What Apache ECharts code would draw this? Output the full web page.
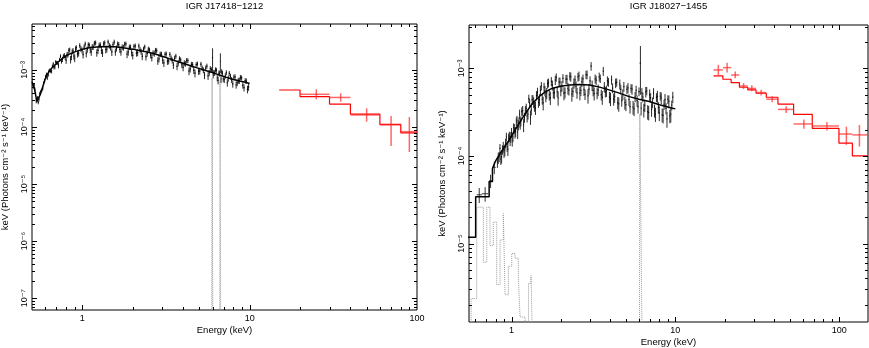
<!DOCTYPE html>
<html><head><meta charset="utf-8">
<script src="https://cdn.jsdelivr.net/npm/echarts@6/dist/echarts.min.js"></script>
<style>html,body{margin:0;padding:0;background:#fff}#c{width:869px;height:348px}</style>
</head><body><div id="c"></div>
<script>
// All flux values are in units of 1e-3 keV (Photons cm^-2 s^-1 keV^-1)
const UNIT = 1e-3;
const titles = ['IGR J17418\u22121212', 'IGR J18027\u22121455'];
const xName = 'Energy (keV)';
const yName = 'keV (Photons cm\u207B\u00B2 s\u207B\u00B9 keV\u207B\u00B9)';
const xTickValues = [1, 10, 100];
const xTickLabels = ['1', '10', '100'];
const yTickValues = [1e-7, 1e-6, 1e-5, 1e-4, 1e-3];
const yTickLabels = ['10\u207B\u2077', '10\u207B\u2076', '10\u207B\u2075', '10\u207B\u2074', '10\u207B\u00B3'];

// ---------- Left panel: IGR J17418-1212 ----------
// soft X-ray data, first detector [E keV, flux, error]
const leftData = [
[0.50,0.67,0.05],[0.51,0.51,0.04],[0.52,0.45,0.04],[0.53,0.29,0.03],[0.54,0.32,0.03],[0.55,0.31,0.03],[0.565,0.42,0.03],[0.58,0.48,0.04],[0.595,0.65,0.05],[0.61,0.84,0.06],
[0.625,0.82,0.06],[0.64,1.00,0.07],[0.655,0.95,0.08],[0.67,1.28,0.09],[0.685,1.13,0.10],[0.70,1.34,0.11],[0.72,1.20,0.13],[0.74,1.74,0.14],[0.76,1.54,0.16],[0.78,1.81,0.18],
[0.80,1.48,0.20],[0.82,1.87,0.21],[0.84,2.25,0.22],[0.86,1.71,0.23],[0.88,2.17,0.24],[0.90,1.62,0.25],[0.92,2.47,0.25],[0.95,1.98,0.26],[0.98,2.35,0.27],[1.01,1.87,0.28],
[1.04,2.86,0.28],[1.07,2.29,0.29],[1.10,2.72,0.29],[1.13,2.07,0.30],[1.16,2.53,0.30],[1.20,2.99,0.30],[1.24,2.22,0.31],[1.28,2.74,0.31],[1.32,2.00,0.31],[1.36,2.99,0.31],
[1.40,2.32,0.31],[1.45,2.67,0.31],[1.50,2.07,0.31],[1.55,3.09,0.31],[1.60,2.40,0.30],[1.65,2.79,0.30],[1.70,2.08,0.30],[1.76,2.47,0.29],[1.82,2.86,0.29],[1.88,2.07,0.29],
[1.94,2.51,0.28],[2.00,1.81,0.28],[2.07,2.64,0.27],[2.14,2.01,0.27],[2.21,2.28,0.26],[2.28,1.74,0.26],[2.36,2.54,0.25],[2.44,1.96,0.25],[2.52,2.23,0.24],[2.60,1.65,0.24],
[2.69,1.94,0.23],[2.78,2.19,0.22],[2.87,1.57,0.22],[2.97,1.88,0.21],[3.07,1.33,0.20],[3.17,1.91,0.20],[3.28,1.44,0.19],[3.39,1.61,0.19],[3.50,1.22,0.18],[3.62,1.75,0.17],
[3.74,1.33,0.17],[3.87,1.51,0.16],[4.00,1.11,0.16],[4.13,1.29,0.15],[4.27,1.46,0.15],[4.41,1.04,0.14],[4.56,1.24,0.14],[4.71,0.88,0.14],[4.87,1.28,0.13],[5.03,0.96,0.13],
[5.20,1.08,0.12],[5.37,0.81,0.12],[5.55,1.17,0.12],[5.73,0.89,0.11],[5.90,1.01,0.11],[6.00,1.65,0.75],[6.10,0.89,0.11],[6.25,1.01,0.10],[6.40,0.73,0.10],[6.55,0.88,0.10],
[6.68,1.42,0.54],[6.80,0.93,0.10],[6.95,0.70,0.09],[7.15,0.79,0.09],[7.35,0.60,0.09],[7.55,0.87,0.09],[7.80,0.67,0.08],[8.05,0.75,0.08],[8.30,0.55,0.08],[8.55,0.65,0.08],
[8.80,0.74,0.08],[9.10,0.54,0.07],[9.40,0.65,0.07],[9.70,0.46,0.07]
];
// soft X-ray data, second detector [E keV, flux, error]
const leftData2 = [
[0.505,0.55,0.04],[0.515,0.55,0.035],[0.525,0.38,0.03],[0.535,0.29,0.02],[0.545,0.27,0.02],[0.557,0.39,0.025],[0.572,0.44,0.03],[0.587,0.59,0.04],[0.602,0.77,0.05],[0.617,0.73,0.06],
[0.632,0.96,0.065],[0.647,0.95,0.07],[0.662,1.17,0.08],[0.677,1.10,0.08],[0.692,1.39,0.09],[0.71,1.33,0.10],[0.73,1.52,0.11],[0.75,1.41,0.12],[0.77,1.75,0.14],[0.79,1.65,0.16],
[0.81,1.85,0.21],[0.83,2.20,0.22],[0.85,1.53,0.23],[0.87,2.12,0.24],[0.89,1.76,0.25],[0.91,2.35,0.25],[0.935,1.91,0.26],[0.965,2.68,0.27],[0.995,2.22,0.27],[1.025,2.55,0.28],
[1.055,1.95,0.29],[1.085,2.77,0.29],[1.115,2.26,0.30],[1.145,2.54,0.30],[1.18,2.95,0.30],[1.22,2.01,0.30],[1.26,2.71,0.31],[1.30,2.21,0.31],[1.34,2.88,0.31],[1.38,2.27,0.31],
[1.425,3.10,0.31],[1.475,2.49,0.31],[1.525,2.79,0.31],[1.575,2.08,0.30],[1.625,2.87,0.30],[1.675,2.30,0.30],[1.73,2.52,0.30],[1.79,2.84,0.29],[1.85,1.90,0.29],[1.91,2.51,0.28],
[1.97,2.01,0.28],[2.035,2.58,0.28],[2.105,1.98,0.27],[2.175,2.65,0.27],[2.245,2.10,0.26],[2.32,2.31,0.25],[2.40,1.71,0.25],[2.48,2.33,0.24],[2.56,1.83,0.24],[2.645,1.98,0.23],
[2.735,2.21,0.23],[2.825,1.45,0.22],[2.92,1.89,0.21],[3.02,1.49,0.21],[3.12,1.88,0.20],[3.225,1.43,0.20],[3.335,1.88,0.19],[3.445,1.47,0.18],[3.56,1.60,0.18],[3.68,1.16,0.17],
[3.805,1.57,0.17],[3.935,1.23,0.16],[4.065,1.33,0.16],[4.2,1.47,0.15],[4.34,0.96,0.15],[4.485,1.25,0.14],[4.635,0.99,0.14],[4.79,1.24,0.13],[4.95,0.95,0.13],[5.115,1.26,0.13],
[5.285,0.99,0.12],[5.46,1.08,0.12],[5.64,0.79,0.12],[5.815,1.06,0.11],[6.05,0.82,0.11],[6.175,0.89,0.10],[6.325,0.99,0.10],[6.475,0.66,0.10],[6.615,0.87,0.10],[6.74,0.69,0.10],
[6.875,0.88,0.09],[7.05,0.68,0.09],[7.25,0.90,0.09],[7.45,0.71,0.09],[7.675,0.77,0.09],[7.925,0.57,0.08],[8.175,0.76,0.08],[8.425,0.60,0.08],[8.675,0.65,0.08],[8.95,0.73,0.07],
[9.25,0.49,0.07],[9.55,0.64,0.07],[9.85,0.50,0.07]
];
// best-fit model [E, flux]
const leftModel = [
[0.50,0.62],[0.515,0.50],[0.535,0.28],[0.56,0.37],[0.60,0.70],[0.63,0.93],[0.66,1.10],[0.70,1.30],[0.76,1.60],[0.82,1.85],
[0.90,2.08],[1.00,2.30],[1.10,2.45],[1.26,2.56],[1.40,2.58],[1.55,2.55],[1.75,2.45],[2.00,2.32],[2.19,2.20],[2.40,2.08],
[2.69,1.92],[3.00,1.74],[3.30,1.58],[3.70,1.41],[4.20,1.25],[4.80,1.10],[5.40,0.99],[5.90,0.91],[6.50,0.83],[7.20,0.75],
[8.00,0.68],[8.70,0.64],[9.30,0.615],[10.0,0.58]
];
// iron-line gaussian components (dotted)
const leftLine1 = [[5.93,0.00001],[5.96,0.72],[6.01,0.74],[6.03,0.00001]];
const leftLine2 = [[6.62,0.00001],[6.65,0.66],[6.70,0.68],[6.72,0.00001]];
// hard X-ray model (step, bin start + value)
const leftHardModel = [[15,0.446],[20,0.34],[30,0.253],[40,0.169],[60,0.111],[80,0.079],[100,0.079]];
// hard X-ray data [E, flux, low, high, Emin, Emax]
const leftHardData = [
[25,0.375,0.306,0.459,20,30],[35,0.33,0.278,0.39,30,40],[50,0.163,0.124,0.213,40,60],
[70,0.109,0.0465,0.156,60,80],[90,0.083,0.0364,0.15,80,100]
];

// ---------- Right panel: IGR J18027-1455 ----------
const rightLowData = [ // [E, flux, err, Emin, Emax]
[0.635,0.036,0.007,0.613,0.66],[0.69,0.037,0.007,0.66,0.72],[0.745,0.052,0.009,0.73,0.765],[0.785,0.074,0.012,0.765,0.80]
];
const rightData = [
[0.82,0.085,0.012],[0.84,0.098,0.013],[0.86,0.092,0.013],[0.88,0.118,0.015],[0.90,0.110,0.015],[0.92,0.140,0.018],[0.94,0.128,0.017],[0.96,0.160,0.02],[0.98,0.150,0.02],[1.00,0.185,0.024],
[1.02,0.165,0.022],[1.04,0.205,0.026],[1.06,0.190,0.025],[1.08,0.255,0.032],[1.10,0.225,0.03],[1.12,0.300,0.038],[1.14,0.250,0.033],[1.17,0.330,0.042],[1.20,0.275,0.036],[1.23,0.350,0.045],
[1.26,0.300,0.04],[1.29,0.400,0.05],[1.32,0.335,0.045],[1.35,0.440,0.055],[1.38,0.370,0.05],[1.42,0.490,0.06],[1.46,0.410,0.055],[1.50,0.560,0.07],[1.54,0.445,0.06],[1.58,0.610,0.075],
[1.62,0.475,0.065],[1.66,0.670,0.08],[1.70,0.500,0.07],[1.75,0.710,0.085],[1.80,0.525,0.07],[1.85,0.735,0.09],[1.90,0.540,0.07],[1.95,0.700,0.085],[2.00,0.555,0.075],[2.06,0.770,0.09],
[2.12,0.530,0.075],[2.18,0.755,0.09],[2.24,0.565,0.075],[2.30,0.800,0.095],[2.37,0.545,0.075],[2.44,0.740,0.09],[2.51,0.525,0.075],[2.58,0.820,0.1],[2.65,0.560,0.075],[2.73,0.760,0.09],
[2.81,0.505,0.07],[2.89,0.850,0.1],[2.97,0.580,0.08],[3.06,1.060,0.12],[3.15,0.560,0.08],[3.24,0.760,0.09],[3.33,0.520,0.075],[3.43,0.800,0.095],[3.53,0.500,0.07],[3.63,0.930,0.11],
[3.74,0.540,0.075],[3.85,0.720,0.09],[3.96,0.470,0.07],[4.08,0.740,0.09],[4.20,0.445,0.07],[4.32,0.680,0.085],[4.45,0.405,0.065],[4.58,0.660,0.085],[4.71,0.430,0.065],[4.85,0.620,0.08],
[4.99,0.385,0.06],[5.14,0.600,0.08],[5.29,0.365,0.06],[5.44,0.580,0.08],[5.60,0.345,0.06],[5.76,0.560,0.075],[5.92,0.365,0.06],[6.12,1.150,0.65],[6.25,0.520,0.075],[6.42,0.335,0.06],
[6.60,0.540,0.075],[6.78,0.320,0.06],[6.97,0.500,0.075],[7.16,0.340,0.06],[7.36,0.520,0.075],[7.56,0.300,0.055],[7.77,0.480,0.075],[7.98,0.310,0.06],[8.20,0.460,0.07],[8.42,0.290,0.055],
[8.65,0.440,0.07],[8.89,0.265,0.055],[9.13,0.420,0.07],[9.38,0.300,0.06],[9.65,0.470,0.07]
];
const rightData2 = [
[0.83,0.095,0.014],[0.85,0.122,0.015],[0.87,0.098,0.016],[0.89,0.128,0.017],[0.91,0.117,0.018],[0.93,0.165,0.019],[0.95,0.120,0.02],[0.97,0.167,0.022],[0.99,0.164,0.023],[1.01,0.153,0.025],
[1.03,0.209,0.026],[1.05,0.186,0.028],[1.07,0.247,0.029],[1.09,0.187,0.031],[1.11,0.243,0.033],[1.13,0.235,0.035],[1.155,0.322,0.037],[1.185,0.227,0.04],[1.215,0.329,0.043],[1.245,0.287,0.046],
[1.275,0.452,0.049],[1.305,0.278,0.052],[1.335,0.440,0.055],[1.365,0.411,0.058],[1.40,0.355,0.061],[1.44,0.537,0.064],[1.48,0.440,0.067],[1.52,0.630,0.07],[1.56,0.403,0.072],[1.60,0.556,0.075],
[1.64,0.522,0.077],[1.68,0.686,0.079],[1.725,0.462,0.081],[1.775,0.642,0.083],[1.825,0.529,0.084],[1.875,0.790,0.085],[1.925,0.461,0.086],[1.975,0.697,0.087],[2.03,0.628,0.088],[2.09,0.520,0.089],
[2.15,0.754,0.089],[2.21,0.592,0.09],[2.27,0.818,0.091],[2.335,0.508,0.091],[2.405,0.678,0.091],[2.475,0.620,0.091],[2.545,0.798,0.092],[2.615,0.524,0.092],[2.69,0.706,0.092],[2.77,0.574,0.091],
[2.85,0.845,0.091],[2.93,0.487,0.091],[3.015,0.722,0.09],[3.105,0.638,0.089],[3.195,0.517,0.088],[3.285,0.736,0.087],[3.38,0.568,0.086],[3.48,0.766,0.085],[3.58,0.468,0.084],[3.685,0.615,0.083],
[3.795,0.552,0.081],[3.905,0.697,0.08],[4.02,0.450,0.079],[4.14,0.597,0.077],[4.26,0.479,0.076],[4.385,0.694,0.075],[4.515,0.393,0.073],[4.645,0.576,0.072],[4.78,0.505,0.071],[4.92,0.407,0.069],
[5.065,0.575,0.068],[5.215,0.439,0.067],[5.365,0.592,0.066],[5.52,0.361,0.065],[5.68,0.474,0.064],[5.84,0.428,0.063],[6.00,0.543,0.062],[6.18,0.352,0.062],[6.335,0.470,0.061],[6.51,0.378,0.06],
[6.69,0.553,0.06],[6.875,0.314,0.059],[7.065,0.464,0.058],[7.26,0.408,0.057],[7.46,0.330,0.056],[7.665,0.466,0.055],[7.875,0.358,0.054],[8.09,0.483,0.054],[8.31,0.295,0.053],[8.535,0.388,0.052],
[8.77,0.349,0.051],[9.01,0.442,0.051],[9.255,0.286,0.05],[9.515,0.380,0.049]
];
const rightModel = [
[0.54,0.0118],[0.604,0.0118],[0.604,0.0343],[0.73,0.0343],[0.73,0.051],[0.765,0.051],[0.765,0.072],[0.80,0.088],[0.86,0.110],[0.92,0.132],
[0.965,0.152],[1.02,0.180],[1.08,0.215],[1.164,0.27],[1.25,0.33],[1.33,0.39],[1.406,0.436],[1.5,0.49],[1.6,0.535],[1.776,0.594],
[2.0,0.625],[2.25,0.648],[2.6,0.655],[2.98,0.648],[3.4,0.615],[3.94,0.568],[4.5,0.525],[5.23,0.476],[6.0,0.445],[6.93,0.418],
[8.0,0.385],[9.0,0.362],[10.0,0.345]
];
// soft thermal component (dotted step)
const rightSoftComp = [
[0.545,0.0009],[0.566,0.00235],[0.613,0.026],[0.673,0.0061],[0.706,0.026],[0.739,0.0095],[0.774,0.0176],[0.812,0.0034],[0.851,0.011],[0.891,0.022],
[0.913,0.0026],[0.956,0.0055],[1.003,0.0077],[1.05,0.0068],[1.10,0.0042],[1.127,0.00145],[1.21,0.0009],[1.27,0.0035],[1.315,0.0043],[1.34,0.0009]
];
const rightLine = [[6.04,0.0009],[6.07,0.30],[6.22,0.31],[6.26,0.0009]];
const rightHardModel = [
[17.1,0.821],[19.5,0.752],[21.9,0.689],[24.6,0.609],[27.7,0.568],[31.1,0.52],[35.9,0.468],[42.3,0.39],[52.7,0.299],[68.5,0.207],
[99.7,0.14],[120.4,0.10],[150,0.10]
];
const rightHardData = [
[18.3,0.96,0.84,1.10,17.1,19.5],[20.7,1.02,0.895,1.16,19.5,21.9],[23.2,0.84,0.77,0.92,21.9,24.6],[26.1,0.63,0.58,0.68,24.6,27.7],
[29.3,0.59,0.55,0.64,27.7,31.1],[33.4,0.53,0.49,0.57,31.1,35.9],[39.0,0.445,0.41,0.48,35.9,42.3],[47.5,0.34,0.31,0.37,42.3,52.7],
[60.9,0.232,0.205,0.26,52.7,68.5],[84.2,0.22,0.195,0.245,68.5,99.7],[110.7,0.178,0.134,0.216,99.7,120.4],[133,0.174,0.128,0.226,120.4,150]
];

// ---------- build ----------
const FONT = 'Liberation Sans, Arial, Helvetica, DejaVu Sans, sans-serif';
const ranges = [
  {x:[0.5,100], y:[6.2e-8,6.4e-3]},
  {x:[0.55,150], y:[1.27e-6,3.13e-3]}
];
const sc = arr => arr.map(d => d.map((v,i) => i===0 ? v : v*UNIT));
const scHard = arr => arr.map(d => [d[0], d[1]*UNIT, d[2]*UNIT, d[3]*UNIT, d[4], d[5]]);
const scLow = arr => arr.map(d => [d[0], d[1]*UNIT, d[2]*UNIT, d[3], d[4]]);
const merge = (a,b) => a.concat(b).sort((p,q) => p[0]-q[0]);
// bin edges for the soft data: half-way (geometric) to the neighbouring channels
const withBins = arr => arr.map((d,i) => {
  const prev = i>0 ? arr[i-1][0] : d[0]*d[0]/arr[i+1][0];
  const next = i<arr.length-1 ? arr[i+1][0] : d[0]*d[0]/arr[i-1][0];
  return [d[0], d[1]*UNIT, d[2]*UNIT, Math.sqrt(prev*d[0]), Math.sqrt(next*d[0])];
});

function findLabel(v, vals, labels){
  for (let i=0;i<vals.length;i++) if (Math.abs(Math.log10(v)-Math.log10(vals[i]))<1e-6) return labels[i];
  return '';
}
const crisp = v => Math.round(v)+0.5;

function tickSeries(gi){
  const xr = ranges[gi].x, yr = ranges[gi].y;
  return {type:'custom', xAxisIndex:gi, yAxisIndex:gi, silent:true, clip:false, z:20,
    data:[[Math.sqrt(xr[0]*xr[1]), Math.sqrt(yr[0]*yr[1])]],
    renderItem(params, api){
      const cs = params.coordSys;
      const ch = [];
      const add=(x1,y1,x2,y2)=>ch.push({type:'line',shape:{x1,y1,x2,y2},style:{stroke:'#000',lineWidth:1}});
      for (let d=Math.floor(Math.log10(xr[0])); d<=Math.ceil(Math.log10(xr[1])); d++){
        for (let k=1;k<=9;k++){
          const v=k*Math.pow(10,d);
          if (v<=xr[0]*1.001 || v>=xr[1]*0.999) continue;
          const px=crisp(api.coord([v, yr[0]])[0]);
          const L=k===1?5:3;
          add(px, cs.y+cs.height, px, cs.y+cs.height-L);
          add(px, cs.y, px, cs.y+L);
        }
      }
      for (let d=Math.floor(Math.log10(yr[0])); d<=Math.ceil(Math.log10(yr[1])); d++){
        for (let k=1;k<=9;k++){
          const v=k*Math.pow(10,d);
          if (v<=yr[0]*1.001 || v>=yr[1]*0.999) continue;
          const py=crisp(api.coord([xr[0], v])[1]);
          const L=k===1?5:3;
          add(cs.x, py, cs.x+L, py);
          add(cs.x+cs.width, py, cs.x+cs.width-L, py);
        }
      }
      return {type:'group', children:ch};
    }};
}

function errSeries(gi, data, color, width){
  return {type:'custom', xAxisIndex:gi, yAxisIndex:gi, silent:true, clip:true, z:3,
    data: withBins(data),
    renderItem(params, api){
      const E=api.value(0), F=api.value(1), e=api.value(2), e0=api.value(3), e1=api.value(4);
      const a=api.coord([E, Math.max(F-e, F*0.05)]), b=api.coord([E, F+e]);
      const l=api.coord([e0,F]), r=api.coord([e1,F]);
      return {type:'group', children:[
        {type:'line', shape:{x1:a[0],y1:a[1],x2:b[0],y2:b[1]}, style:{stroke:color,lineWidth:width}},
        {type:'line', shape:{x1:l[0],y1:l[1],x2:r[0],y2:r[1]}, style:{stroke:'#000',lineWidth:1.3}}
      ]};
    }};
}

function lowSeries(gi, data, color){
  return {type:'custom', xAxisIndex:gi, yAxisIndex:gi, silent:true, clip:true, z:3,
    data: scLow(data),
    renderItem(params, api){
      const E=api.value(0), F=api.value(1), e=api.value(2), e0=api.value(3), e1=api.value(4);
      const a=api.coord([E,F-e]), b=api.coord([E,F+e]), l=api.coord([e0,F]), r=api.coord([e1,F]);
      return {type:'group', children:[
        {type:'line', shape:{x1:a[0],y1:a[1],x2:b[0],y2:b[1]}, style:{stroke:color,lineWidth:1}},
        {type:'line', shape:{x1:l[0],y1:l[1],x2:r[0],y2:r[1]}, style:{stroke:color,lineWidth:1}}
      ]};
    }};
}

function hardSeries(gi, data){
  const color='rgba(255,40,40,0.7)';
  return {type:'custom', xAxisIndex:gi, yAxisIndex:gi, silent:true, clip:true, z:6,
    data: scHard(data),
    renderItem(params, api){
      const E=api.value(0), F=api.value(1), lo=api.value(2), hi=api.value(3), e0=api.value(4), e1=api.value(5);
      const a=api.coord([E,lo]), b=api.coord([E,hi]), l=api.coord([e0,F]), r=api.coord([e1,F]);
      return {type:'group', children:[
        {type:'line', shape:{x1:a[0],y1:a[1],x2:b[0],y2:b[1]}, style:{stroke:color,lineWidth:1.5}},
        {type:'line', shape:{x1:l[0],y1:l[1],x2:r[0],y2:r[1]}, style:{stroke:color,lineWidth:1.5}}
      ]};
    }};
}

function lineSeries(gi, data, color, width, type, step, z){
  return {type:'line', xAxisIndex:gi, yAxisIndex:gi, data: sc(data), showSymbol:false, symbol:'none',
    silent:true, animation:false, step: step || false, clip:true, z: z||4,
    lineStyle:{color, width, type: type||'solid'}};
}

const axisText = {color:'#000', fontSize:9, fontFamily:FONT};
const nameText = {color:'#000', fontSize:9.5, fontFamily:FONT};
function xAxis(gi){
  return {type:'log', logBase:10, gridIndex:gi, min:ranges[gi].x[0], max:ranges[gi].x[1],
    axisLine:{show:false}, axisTick:{show:false}, splitLine:{show:false}, minorTick:{show:false},
    axisLabel:Object.assign({margin:4, formatter:v=>findLabel(v, xTickValues, xTickLabels), showMinLabel:true, showMaxLabel:true, hideOverlap:false}, axisText),
    name:xName, nameLocation:'middle', nameGap:15, nameMoveOverlap:false, nameTextStyle:nameText};
}
function yAxis(gi){
  return {type:'log', logBase:10, gridIndex:gi, min:ranges[gi].y[0], max:ranges[gi].y[1],
    axisLine:{show:false}, axisTick:{show:false}, splitLine:{show:false}, minorTick:{show:false},
    axisLabel:Object.assign({margin:3, rotate:90, formatter:v=>findLabel(v, yTickValues, yTickLabels), showMinLabel:true, showMaxLabel:true, hideOverlap:false}, axisText),
    name:yName, nameLocation:'middle', nameGap:22, nameRotate:90, nameMoveOverlap:false, nameTextStyle:nameText};
}

const option = {
  animation:false,
  backgroundColor:'#fff',
  textStyle:{fontFamily:FONT},
  grid:[
    {left:32, right:452, top:24, bottom:38, show:true, borderColor:'#000', borderWidth:1, backgroundColor:'transparent', containLabel:false, outerBoundsMode:'none'},
    {left:469, right:1, top:25, bottom:26, show:true, borderColor:'#000', borderWidth:1, backgroundColor:'transparent', containLabel:false, outerBoundsMode:'none'}
  ],
  xAxis:[xAxis(0), xAxis(1)],
  yAxis:[yAxis(0), yAxis(1)],
  graphic:[
    {type:'text', x:224.5, y:1, style:{text:titles[0], textAlign:'center', textVerticalAlign:'top', fill:'#000', font:'9.5px '+FONT}},
    {type:'text', x:668.5, y:1, style:{text:titles[1], textAlign:'center', textVerticalAlign:'top', fill:'#000', font:'9.5px '+FONT}}
  ],
  series:[
    lineSeries(0, leftLine1, '#999', 1, 'dotted', false, 2),
    lineSeries(0, leftLine2, '#999', 1, 'dotted', false, 2),
    errSeries(0, merge(leftData, leftData2), '#2b2b2b', 1),
    lineSeries(0, leftModel, '#000', 1.5, 'solid', false, 5),
    lineSeries(0, leftHardModel, '#ff0000', 1.2, 'solid', 'end', 5),
    hardSeries(0, leftHardData),
    lineSeries(1, rightSoftComp, '#999', 1, 'dotted', 'end', 2),
    lineSeries(1, rightLine, '#999', 1, 'dotted', false, 2),
    lowSeries(1, rightLowData, '#333'),
    errSeries(1, merge(rightData, rightData2), '#2b2b2b', 1),
    lineSeries(1, rightModel, '#000', 1.5, 'solid', false, 5),
    lineSeries(1, rightHardModel, '#ff0000', 1.2, 'solid', 'end', 5),
    hardSeries(1, rightHardData),
    tickSeries(0),
    tickSeries(1)
  ]
};
const chart = echarts.init(document.getElementById('c'), null, {renderer:'canvas'});
chart.setOption(option);
</script>
</body></html>
